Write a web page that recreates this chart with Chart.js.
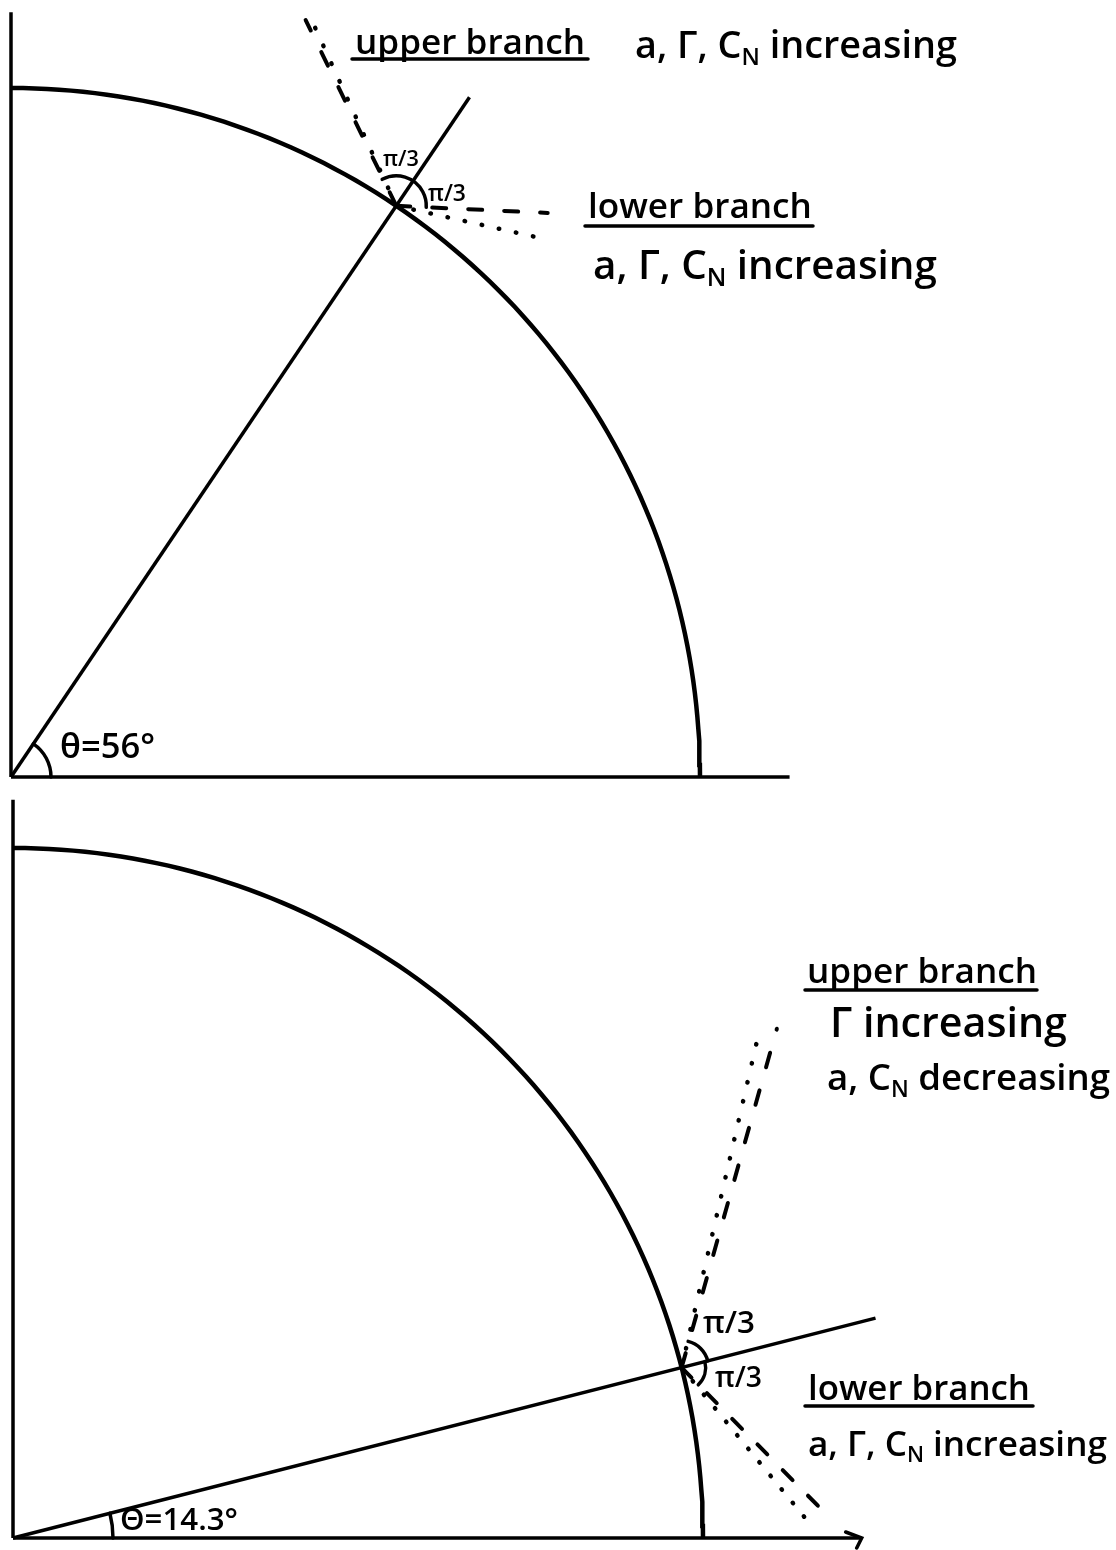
<!DOCTYPE html>
<html>
<head>
<meta charset="utf-8">
<script src="https://cdn.jsdelivr.net/npm/chart.js@4.4.1/dist/chart.umd.min.js"></script>
<style>
    html, body { margin: 0; padding: 0; background: #fff; }
    #wrap { position: relative; width: 1116px; height: 1550px; }
    canvas { position: absolute; left: 0; }
</style>
</head>
<body>
<div id="wrap">
    <canvas id="topChart" width="1116" height="790" style="top:0"></canvas>
    <canvas id="bottomChart" width="1116" height="760" style="top:790px"></canvas>
</div>
<script>
// --- data (angles in degrees, lengths in units of the arc radius) ---
const thetaDeg = [56, 14.3];
const radialLength = [1.19, 1.29];
const xAxisLength = [1.13, 1.23];
const yAxisLength = [1.11, 1.07];
// branches leave the crossing point at theta +/- pi/3
const upperDashAngle = [116, 74.3];
const upperDashLength = [0.30, 0.51];
const upperDotAngle = [114.5, 77];
const upperDotLength = [0.29, 0.50];
const lowerDashAngle = [-2.7, -45.4];
const lowerDashLength = [0.22, 0.30];
const lowerDotAngle = [-12.6, -50.6];
const lowerDotLength = [0.21, 0.30];
const arcSteps = Array.from({ length: 91 }, (_, k) => k); // 0..90 deg

// --- layout of each panel: origin pixel and radius pixel ---
const panels = [
    { id: 'topChart', w: 1116, h: 790, ox: 11, oy: 777, r: 689 },
    { id: 'bottomChart', w: 1116, h: 760, ox: 13, oy: 748, r: 690 }
];

// text: parts are [string, isSubscript]
const labels = [
    [
        { parts: [['upper branch', 0]], x: 355, base: 54, w: 230, under: [352, 588, 59] },
        { parts: [['a, Γ, C', 0], ['N', 1], [' increasing', 0]], x: 635, base: 58, w: 322 },
        { parts: [['lower branch', 0]], x: 588, base: 218, w: 224, under: [585, 813, 226] },
        { parts: [['a, Γ, C', 0], ['N', 1], [' increasing', 0]], x: 593, base: 279, w: 344 },
        { parts: [['θ=56°', 0]], x: 60, base: 758, w: 95 },
        { parts: [['π/3', 0]], x: 383, base: 166, w: 36 },
        { parts: [['π/3', 0]], x: 428, base: 201, w: 38 }
    ],
    [
        { parts: [['upper branch', 0]], x: 807, base: 193, w: 230, under: [805, 1037, 200] },
        { parts: [['Γ increasing', 0]], x: 830, base: 247, w: 237 },
        { parts: [['a, C', 0], ['N', 1], [' decreasing', 0]], x: 827, base: 300, w: 283 },
        { parts: [['π/3', 0]], x: 703, base: 543, w: 52 },
        { parts: [['π/3', 0]], x: 715, base: 597, w: 47 },
        { parts: [['lower branch', 0]], x: 808, base: 610, w: 222, under: [805, 1033, 616] },
        { parts: [['a, Γ, C', 0], ['N', 1], [' increasing', 0]], x: 808, base: 666, w: 299 },
        { parts: [['Θ=14.3°', 0]], x: 120, base: 740, w: 118 }
    ]
];
// small angle arcs: [centre (0 = origin, 1 = crossing), radius px, fromDeg, toDeg]
const angleMarks = [
    [[0, 40, 0, 56], [1, 30, 118, -3]],
    [[0, 100, 0, 14.3], [1, 27, 76, 14.3], [1, 24, 14.3, -46]]
];

const FONT = '"Open Sans", "DejaVu Sans", sans-serif';

function pt(deg, len, from) {
    const a = deg * Math.PI / 180;
    return { x: (from ? from.x : 0) + len * Math.cos(a), y: (from ? from.y : 0) + len * Math.sin(a) };
}

function lineSet(data, width, dash, cap) {
    return {
        data: data, showLine: true, borderColor: '#000', borderWidth: width,
        borderDash: dash || [], borderCapStyle: cap || 'butt', pointRadius: 0,
        fill: false, tension: 0, clip: false
    };
}

function buildDatasets(i) {
    const cross = pt(thetaDeg[i], 1);
    return [
        lineSet([{ x: 0, y: 0 }, { x: 0, y: yAxisLength[i] }], 3.5),
        lineSet([{ x: 0, y: 0 }, { x: xAxisLength[i], y: 0 }], 3.5),
        lineSet(arcSteps.map(d => pt(d, 1)), 4.5),
        lineSet([{ x: 0, y: 0 }, pt(thetaDeg[i], radialLength[i])], 3.5),
        lineSet([cross, pt(upperDashAngle[i], upperDashLength[i], cross)], 4, [15, 24], 'round'),
        lineSet([cross, pt(upperDotAngle[i], upperDotLength[i], cross)], 4.5, [0.5, 19], 'round'),
        lineSet([cross, pt(lowerDashAngle[i], lowerDashLength[i], cross)], 4, [14, 22], 'round'),
        lineSet([cross, pt(lowerDotAngle[i], lowerDotLength[i], cross)], 4.5, [0.5, 17], 'round')
    ];
}

function drawRich(ctx, lab) {
    const base = 30;
    const measure = (size) => lab.parts.reduce((s, p) => {
        ctx.font = `600 ${p[1] ? size * 0.62 : size}px ${FONT}`;
        return s + ctx.measureText(p[0]).width;
    }, 0);
    const size = base * lab.w / measure(base);
    let x = lab.x;
    ctx.fillStyle = '#000';
    ctx.textBaseline = 'alphabetic';
    lab.parts.forEach(p => {
        ctx.font = `600 ${p[1] ? size * 0.62 : size}px ${FONT}`;
        ctx.fillText(p[0], x, lab.base + (p[1] ? size * 0.18 : 0));
        x += ctx.measureText(p[0]).width;
    });
    if (lab.under) {
        ctx.lineWidth = 3.5;
        ctx.beginPath();
        ctx.moveTo(lab.under[0], lab.under[2]);
        ctx.lineTo(lab.under[1], lab.under[2]);
        ctx.stroke();
    }
}

const notesPlugin = {
    id: 'notes',
    afterDatasetsDraw(chart) {
        const i = chart.options.plugins.notes.panel;
        const ctx = chart.ctx;
        const sx = chart.scales.x, sy = chart.scales.y;
        const cross = pt(thetaDeg[i], 1);
        const centres = [
            { x: sx.getPixelForValue(0), y: sy.getPixelForValue(0) },
            { x: sx.getPixelForValue(cross.x), y: sy.getPixelForValue(cross.y) }
        ];
        ctx.save();
        ctx.strokeStyle = '#000';
        ctx.lineCap = 'round';
        angleMarks[i].forEach(m => {
            const c = centres[m[0]];
            ctx.lineWidth = 3.5;
            ctx.beginPath();
            // screen y points down, so a growing angle runs anticlockwise
            ctx.arc(c.x, c.y, m[1], -m[2] * Math.PI / 180, -m[3] * Math.PI / 180, m[2] < m[3]);
            ctx.stroke();
        });
        if (i === 1) {
            // arrow head at the end of the horizontal axis
            const ax = sx.getPixelForValue(xAxisLength[i]), ay = sy.getPixelForValue(0);
            ctx.lineWidth = 3.5;
            ctx.beginPath();
            ctx.moveTo(ax - 16, ay - 6); ctx.lineTo(ax, ay); ctx.lineTo(ax - 5, ay + 10);
            ctx.stroke();
        }
        labels[i].forEach(lab => drawRich(ctx, lab));
        ctx.restore();
    }
};

panels.forEach((p, i) => {
    new Chart(document.getElementById(p.id), {
        type: 'scatter',
        data: { datasets: buildDatasets(i) },
        options: {
            responsive: false, animation: false, events: [],
            layout: { padding: 0 },
            scales: {
                x: { type: 'linear', display: false, min: -p.ox / p.r, max: (p.w - p.ox) / p.r },
                y: { type: 'linear', display: false, min: -(p.h - p.oy) / p.r, max: p.oy / p.r }
            },
            plugins: { legend: { display: false }, tooltip: { enabled: false }, notes: { panel: i } }
        },
        plugins: [notesPlugin]
    });
});
</script>
</body>
</html>
